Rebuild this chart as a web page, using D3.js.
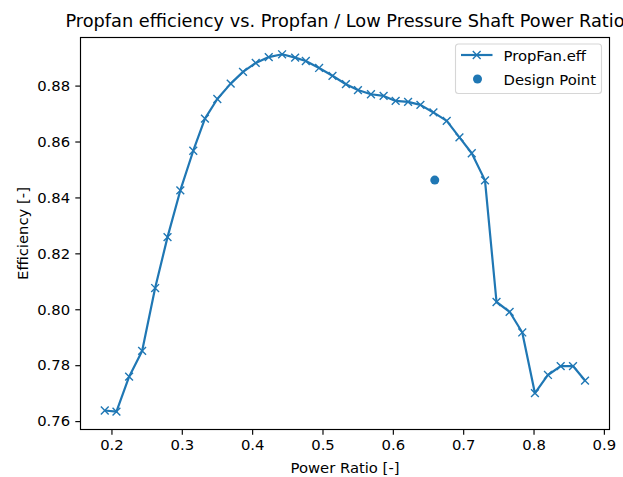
<!DOCTYPE html>
<html>
<head>
<meta charset="utf-8">
<script src="https://cdn.jsdelivr.net/npm/d3@7"></script>
<style>
    body { margin: 0; background: #fff; }
    text { font-family: "DejaVu Sans", sans-serif; fill: #000; }
    .axis path, .axis line { stroke: #000; stroke-width: 1.15; }
    .axis text { font-size: 14.8px; }
</style>
</head>
<body>
<div id="chart"></div>
<script>
// power ratio vs propfan efficiency
const powerRatio = [0.1905, 0.2071, 0.2251, 0.2436, 0.2621, 0.2797, 0.2979, 0.3163, 0.3329, 0.3505,
    0.3695, 0.3870, 0.4051, 0.4236, 0.4426, 0.4611, 0.4763, 0.4952, 0.5142, 0.5333,
    0.5504, 0.5689, 0.5869, 0.6040, 0.6217, 0.6392, 0.6577, 0.6766, 0.6947, 0.7122,
    0.7310, 0.7474, 0.7660, 0.7840, 0.8020, 0.8205, 0.8386, 0.8561, 0.8732];
const efficiency = [0.7638, 0.7634, 0.7759, 0.7851, 0.8076, 0.8258, 0.8425, 0.8567, 0.8682, 0.8752,
    0.8807, 0.8849, 0.8881, 0.8902, 0.8912, 0.8900, 0.8888, 0.8863, 0.8835, 0.8805,
    0.8784, 0.8769, 0.8763, 0.8745, 0.8742, 0.8731, 0.8704, 0.8674, 0.8615, 0.8558,
    0.8461, 0.8026, 0.7991, 0.7917, 0.7700, 0.7765, 0.7797, 0.7797, 0.7745];
const designPoint = [0.6596, 0.8462];

const xTicks = [0.2, 0.3, 0.4, 0.5, 0.6, 0.7, 0.8, 0.9];
const yTicks = [0.76, 0.78, 0.80, 0.82, 0.84, 0.86, 0.88];
const seriesNames = ["PropFan.eff", "Design Point"];

const blue = "#1f77b4";
const W = 623, H = 477;
const margin = {top: 37.5, right: 13.5, bottom: 47.5, left: 80.5};
const width = W - margin.left - margin.right;
const height = H - margin.top - margin.bottom;

const svg = d3.select("#chart").append("svg")
    .attr("width", W)
    .attr("height", H);

const g = svg.append("g")
    .attr("transform", "translate(" + margin.left + "," + margin.top + ")");

const x = d3.scaleLinear().domain([0.1560, 0.9080]).range([0, width]);
const y = d3.scaleLinear().domain([0.7570, 0.8972]).range([height, 0]);

// axes
g.append("g")
    .attr("class", "x-axis axis")
    .attr("transform", "translate(0," + height + ")")
    .call(d3.axisBottom(x).tickValues(xTicks).tickFormat(d3.format(".1f")).tickSizeOuter(0).tickSize(5.2).tickPadding(5.2));

g.append("g")
    .attr("class", "y-axis axis")
    .call(d3.axisLeft(y).tickValues(yTicks).tickFormat(d3.format(".2f")).tickSizeOuter(0).tickSize(5.2).tickPadding(5.2));

g.selectAll(".axis .domain").remove();

// frame
g.append("rect")
    .attr("width", width)
    .attr("height", height)
    .attr("fill", "none")
    .attr("stroke", "#000")
    .attr("stroke-width", 1.15);

const points = powerRatio.map((d, i) => [d, efficiency[i]]);

g.append("path")
    .datum(points)
    .attr("fill", "none")
    .attr("stroke", blue)
    .attr("stroke-width", 2.2)
    .attr("stroke-linejoin", "round")
    .attr("d", d3.line().x(d => x(d[0])).y(d => y(d[1])));

const s = 3.9;
function cross(sel) {
    sel.append("path")
        .attr("d", "M" + (-s) + "," + (-s) + "L" + s + "," + s + "M" + (-s) + "," + s + "L" + s + "," + (-s))
        .attr("stroke", blue)
        .attr("stroke-width", 1.4)
        .attr("fill", "none");
}

g.selectAll(".mark")
    .data(points)
    .enter().append("g")
    .attr("class", "mark")
    .attr("transform", d => "translate(" + x(d[0]) + "," + y(d[1]) + ")")
    .call(cross);

g.append("circle")
    .attr("cx", x(designPoint[0]))
    .attr("cy", y(designPoint[1]))
    .attr("r", 4.5)
    .attr("fill", blue);

// title and labels
svg.append("text")
    .attr("x", margin.left + width / 2)
    .attr("y", 26.5)
    .attr("text-anchor", "middle")
    .style("font-size", "17.75px")
    .text("Propfan efficiency vs. Propfan / Low Pressure Shaft Power Ratio");

svg.append("text")
    .attr("x", margin.left + width / 2)
    .attr("y", 473)
    .attr("text-anchor", "middle")
    .style("font-size", "14.8px")
    .text("Power Ratio [-]");

svg.append("text")
    .attr("transform", "translate(27.5," + (margin.top + height / 2) + ") rotate(-90)")
    .attr("text-anchor", "middle")
    .style("font-size", "14.8px")
    .text("Efficiency [-]");

// legend
const lg = svg.append("g").attr("transform", "translate(455.5,44)");
lg.append("rect")
    .attr("width", 146)
    .attr("height", 49.5)
    .attr("rx", 3)
    .attr("fill", "#fff")
    .attr("fill-opacity", 0.8)
    .attr("stroke", "#d6d6d6")
    .attr("stroke-width", 1.1);

lg.append("line")
    .attr("x1", 5.5).attr("x2", 37)
    .attr("y1", 11).attr("y2", 11)
    .attr("stroke", blue)
    .attr("stroke-width", 2.2);
lg.append("g").attr("transform", "translate(21.2,11)").call(cross);
lg.append("circle")
    .attr("cx", 22).attr("cy", 35)
    .attr("r", 4.5)
    .attr("fill", blue);

lg.selectAll(".lg-text")
    .data(seriesNames)
    .enter().append("text")
    .attr("class", "lg-text")
    .attr("x", 48)
    .attr("y", (d, i) => 16.5 + i * 24)
    .style("font-size", "14.8px")
    .text(d => d);
</script>
</body>
</html>
